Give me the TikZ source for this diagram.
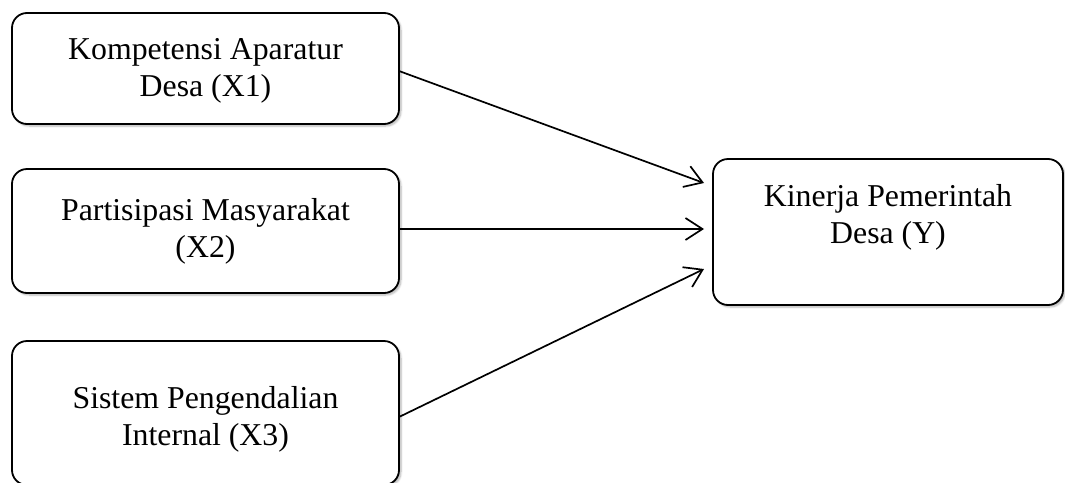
\documentclass[tikz,border=0pt]{standalone}
\usepackage{fontspec}
\setmainfont{Liberation Serif}
\usetikzlibrary{arrows.meta,shadows.blur}
\begin{document}
\begin{tikzpicture}[x=1pt,y=-1pt,
  box/.style={draw=black, line width=1.8pt, rounded corners=15pt, fill=white,
    blur shadow={shadow xshift=2pt, shadow yshift=-2pt, shadow blur steps=6, shadow opacity=30},
    inner sep=0pt},
  txt/.style={align=center, font=\fontsize{31.8}{37}\selectfont, inner sep=0pt},
  conn/.style={line width=1.7pt, -{Straight Barb[length=17pt,width=22pt,line width=1.7pt]}}
]
\useasboundingbox (0,0) rectangle (1065,482);
\begin{scope}
\clip (0,0) rectangle (1065,482);
\node[box, minimum width=387pt, minimum height=111pt] (b1) at (205.5,68.5) {};
\node[box, minimum width=387pt, minimum height=124pt] (b2) at (205.5,231) {};
\node[box, minimum width=387pt, minimum height=144pt] (b3) at (205.5,413) {};
\node[box, minimum width=350pt, minimum height=146pt] (by) at (888,232) {};
\end{scope}
\node[txt] (t1) at (205.5,71) {Kompetensi Aparatur\\Desa (X1)};
\node[txt] (t2) at (205.5,231) {Partisipasi Masyarakat\\(X2)};
\node[txt] (t3) at (205.5,419) {Sistem Pengendalian\\Internal (X3)};
\node[txt] (ty) at (888,217) {Kinerja Pemerintah\\Desa (Y)};
\coordinate (s1) at (399,71);
\coordinate (s2) at (399,229);
\coordinate (s3) at (399,417);
\coordinate (e1) at (704,183);
\coordinate (e2) at (704,229);
\coordinate (e3) at (704,269);
\draw[conn] (s1) -- (e1);
\draw[conn] (s2) -- (e2);
\draw[conn] (s3) -- (e3);
\end{tikzpicture}
\end{document}
